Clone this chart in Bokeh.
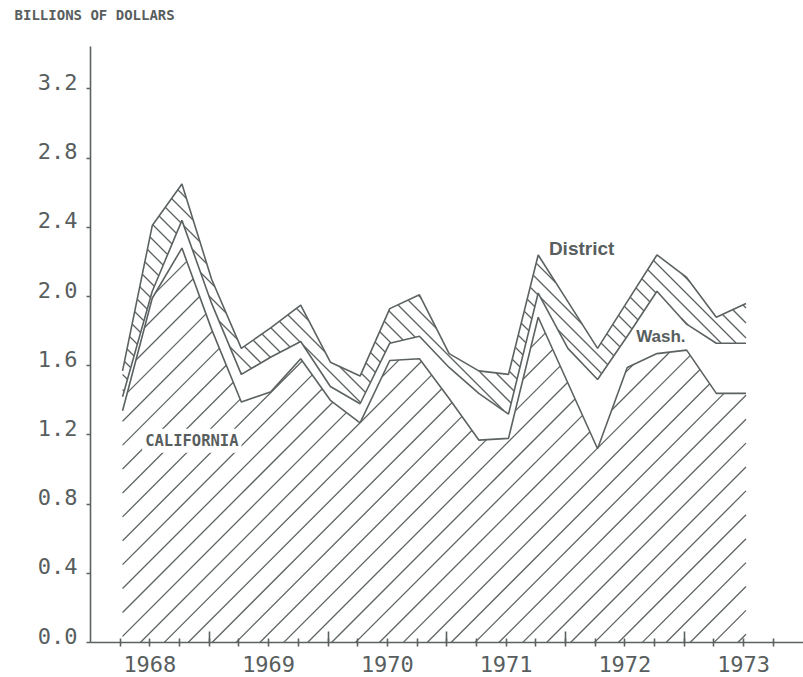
import numpy as np
from bokeh.plotting import figure
from bokeh.models import Range1d, LinearAxis, FixedTicker, Label
from bokeh.embed import file_html
from bokeh.resources import INLINE

# ---------------- data (billions of dollars, by quarter) ----------------
quarters = ["1968Q1", "1968Q2", "1968Q3", "1968Q4",
            "1969Q1", "1969Q2", "1969Q3", "1969Q4",
            "1970Q1", "1970Q2", "1970Q3", "1970Q4",
            "1971Q1", "1971Q2", "1971Q3", "1971Q4",
            "1972Q1", "1972Q2", "1972Q3", "1972Q4",
            "1973Q1", "1973Q2"]
california = [1.34, 1.99, 2.28, 1.81, 1.39, 1.45, 1.64, 1.40, 1.27, 1.63, 1.64,
              1.41, 1.17, 1.18, 1.88, 1.50, 1.12, 1.59, 1.67, 1.69, 1.44, 1.44]
washington = [0.08, 0.04, 0.16, 0.15, 0.16, 0.20, 0.10, 0.08, 0.11, 0.10, 0.13,
              0.18, 0.27, 0.14, 0.14, 0.20, 0.40, 0.18, 0.36, 0.15, 0.29, 0.29]
other_district = [0.15, 0.38, 0.21, 0.14, 0.15, 0.17, 0.21, 0.14, 0.16, 0.20, 0.24,
                  0.08, 0.13, 0.23, 0.22, 0.27, 0.18, 0.20, 0.21, 0.27, 0.15, 0.23]
y_ticks = [0.0, 0.4, 0.8, 1.2, 1.6, 2.0, 2.4, 2.8, 3.2]
y_tick_labels = ["0.0", "0.4", "0.8", "1.2", "1.6", "2.0", "2.4", "2.8", "3.2"]
years = [1968, 1969, 1970, 1971, 1972, 1973]
year_labels = ["1968", "1969", "1970", "1971", "1972", "1973"]
units_title = "BILLIONS OF DOLLARS"

# ---------------- derived ----------------
x = np.array([int(s[:4]) + 0.25 * int(s[-1]) + 0.02 for s in quarters])
c_top = np.array(california)
w_top = c_top + np.array(washington)
d_top = w_top + np.array(other_district)

INK = "#5c6262"
TXT = "#585e5e"
MONO = "DejaVu Sans Mono"

W, H = 803, 677
LEFT, TOP, BOTTOM = 90, 46, 35
X0 = 1968.0
PX_PER_YEAR, PX_PER_UNIT = 118.75, 173.0
fw, fh = W - LEFT, H - TOP - BOTTOM

p = figure(width=W, height=H, output_backend="svg", toolbar_location=None,
           x_range=Range1d(X0, X0 + fw / PX_PER_YEAR),
           y_range=Range1d(0.0, fh / PX_PER_UNIT),
           min_border_left=LEFT, min_border_right=0, min_border_top=TOP,
           min_border_bottom=BOTTOM, x_axis_type=None, y_axis_type=None)
p.outline_line_color = None
p.grid.visible = False
p.background_fill_color = "white"


def hatch(xd, lo, hi, spacing, slope, phase):
    """45-degree hatch lines (in screen space) clipped to the band lo..hi."""
    u = (xd - X0) * PX_PER_YEAR
    us = np.arange(u[0], u[-1], 0.25)
    us = np.append(us, u[-1])
    lo_s = np.interp(us, u, np.asarray(lo, float) * PX_PER_UNIT)
    hi_s = np.interp(us, u, np.asarray(hi, float) * PX_PER_UNIT)
    if slope > 0:
        cmin, cmax = us.min() - hi_s.max(), us.max() - lo_s.min()
    else:
        cmin, cmax = us.min() + lo_s.min(), us.max() + hi_s.max()
    start = phase + np.floor((cmin - phase) / spacing) * spacing
    x0s, y0s, x1s, y1s = [], [], [], []
    for c in np.arange(start, cmax + spacing, spacing):
        v = us - c if slope > 0 else c - us
        inside = (v >= lo_s - 0.01) & (v <= hi_s + 0.01)
        if not inside.any():
            continue
        d = np.diff(np.concatenate([[0], inside.astype(int), [0]]))
        starts = np.where(d == 1)[0]
        ends = np.where(d == -1)[0] - 1
        for i0, i1 in zip(starts, ends):
            if i1 <= i0:
                continue
            x0s.append(X0 + us[i0] / PX_PER_YEAR)
            y0s.append(v[i0] / PX_PER_UNIT)
            x1s.append(X0 + us[i1] / PX_PER_YEAR)
            y1s.append(v[i1] / PX_PER_UNIT)
    return x0s, y0s, x1s, y1s


# California band: "/" hatch; other District states: "\" hatch; Washington: blank
hx0, hy0, hx1, hy1 = hatch(x, np.zeros_like(x), c_top, 23.9, +1, 2.0)
p.segment(hx0, hy0, hx1, hy1, line_color=INK, line_width=1.3)
hx0, hy0, hx1, hy1 = hatch(x, w_top, d_top, 15.0, -1, 0.0)
p.segment(hx0, hy0, hx1, hy1, line_color=INK, line_width=1.3)
for yy in (c_top, w_top, d_top):
    p.line(x, yy, line_color=INK, line_width=1.6)

# x axis: line, quarter ticks, year labels centred in each year
quarter_ticks = [y + q * 0.25 for y in years for q in range(0, 4)][1:]
mid_years = [y + 0.5 for y in years]
xa = LinearAxis(ticker=FixedTicker(ticks=mid_years, minor_ticks=quarter_ticks),
                axis_line_color=INK, axis_line_width=1.6,
                major_tick_line_color=None, major_tick_in=0, major_tick_out=0,
                minor_tick_line_color=INK, minor_tick_line_width=1.6,
                minor_tick_in=4, minor_tick_out=4,
                major_label_overrides={m: s for m, s in zip(mid_years, year_labels)},
                major_label_text_font=MONO, major_label_text_font_size="22px",
                major_label_text_color=TXT, major_label_standoff=9)
p.add_layout(xa, "below")
# long ticks at the year boundaries, drawn on the same baseline
xb = LinearAxis(ticker=FixedTicker(ticks=[], minor_ticks=years[1:]),
                fixed_location=0.0, axis_line_color=None,
                major_tick_line_color=None,
                minor_tick_line_color=INK, minor_tick_line_width=1.6,
                minor_tick_in=11, minor_tick_out=10)
p.add_layout(xb, "below")

# units caption above the top-left corner
title_at = 1968.035
ta = LinearAxis(ticker=FixedTicker(ticks=[title_at], minor_ticks=[]),
                axis_line_color=None, major_tick_line_color=None,
                major_tick_in=0, major_tick_out=0,
                major_label_overrides={title_at: units_title},
                major_label_text_font=MONO, major_label_text_font_size="14px",
                major_label_text_font_style="bold", major_label_text_color=TXT,
                major_label_standoff=24)
p.add_layout(ta, "above")

# y axis: line and small ticks
ya = LinearAxis(ticker=FixedTicker(ticks=[], minor_ticks=y_ticks),
                axis_line_color=INK, axis_line_width=1.6,
                major_tick_line_color=None,
                minor_tick_line_color=INK, minor_tick_line_width=1.6,
                minor_tick_in=0, minor_tick_out=4, major_label_standoff=0)
p.add_layout(ya, "left")

# y labels sit slightly above their ticks
shift = 7 / PX_PER_UNIT
p.extra_y_ranges = {"lab": Range1d(0.0 - shift, fh / PX_PER_UNIT - shift)}
yl = LinearAxis(y_range_name="lab", ticker=FixedTicker(ticks=y_ticks, minor_ticks=[]),
                axis_line_color=None, major_tick_line_color=None, minor_tick_line_color=None,
                major_tick_in=0, major_tick_out=0,
                major_label_overrides={v: s for v, s in zip(y_ticks, y_tick_labels)},
                major_label_text_font=MONO, major_label_text_font_size="22px",
                major_label_text_color=TXT, major_label_standoff=9)
p.add_layout(yl, "left")

p.add_layout(Label(x=1968.435, y=1.166, text="CALIFORNIA", text_align="left",
                   text_baseline="middle", text_font=MONO, text_font_size="15.5px",
                   text_font_style="bold", text_color=TXT,
                   background_fill_color="white", padding=3))
p.add_layout(Label(x=1971.86, y=2.276, text="District", text_align="left",
                   text_baseline="middle", text_font="Liberation Sans", text_font_size="19px",
                   text_font_style="bold", text_color=TXT))
p.add_layout(Label(x=1972.595, y=1.767, text="Wash.", text_align="left",
                   text_baseline="middle", text_font="Liberation Sans", text_font_size="17px",
                   text_font_style="bold", text_color=TXT))

open("out.html", "w").write(file_html(p, INLINE))
